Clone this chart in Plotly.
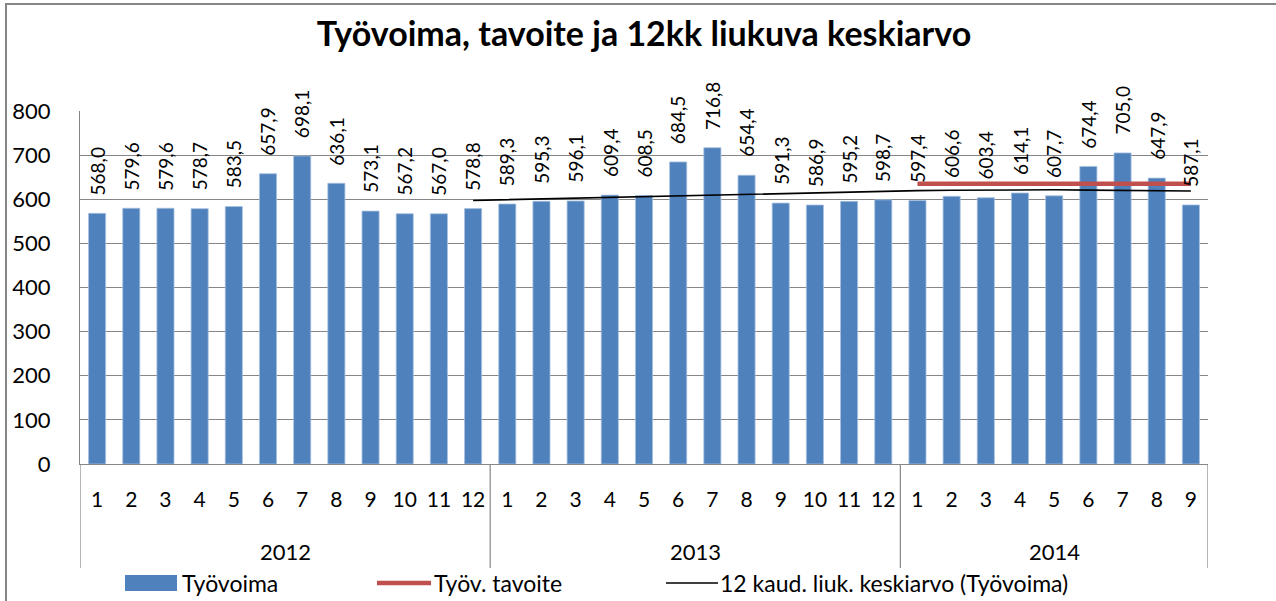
import plotly.graph_objects as go

# ---- data ----
years = ["2012", "2013", "2014"]
months_per_year = [12, 12, 9]
month_labels = [str(m) for m in range(1, 13)] + [str(m) for m in range(1, 13)] + [str(m) for m in range(1, 10)]
tyovoima = [568.0, 579.6, 579.6, 578.7, 583.5, 657.9, 698.1, 636.1, 573.1, 567.2, 567.0, 578.8,
            589.3, 595.3, 596.1, 609.4, 608.5, 684.5, 716.8, 654.4, 591.3, 586.9, 595.2, 598.7,
            597.4, 606.6, 603.4, 614.1, 607.7, 674.4, 705.0, 647.9, 587.1]
tavoite = [None] * 24 + [635.0] * 9
liukuva = [None] * 11 + [597.3,
           599.1, 600.4, 601.8, 604.3, 606.4, 608.6, 610.2, 611.7, 613.2, 614.9, 617.2, 618.9,
           619.5, 620.5, 621.1, 621.5, 621.4, 620.6, 619.6, 619.1, 618.7]
series_names = ["Työvoima", "Työv. tavoite", "12 kaud. liuk. keskiarvo (Työvoima)"]
title_text = "Työvoima, tavoite ja 12kk liukuva keskiarvo"

x = list(range(len(tyovoima)))

BLUE = "#4F81BD"
RED = "#C0504D"
GRID = "#868686"
FONT = "Lato"

# layout geometry (pixels)
W, H = 1276, 601
L, R, T, B = 80, 68, 111, 137
PW, PH = W - L - R, H - T - B

def px(X):
    return (X - L) / PW

def py(Y):
    return (H - B - Y) / PH

fig = go.Figure()
fig.add_trace(go.Bar(x=x, y=tyovoima, name=series_names[0], marker_color=BLUE,
                     marker_line=dict(color="#A7C0DE", width=0.8), width=0.5, showlegend=False))
fig.add_trace(go.Scatter(x=x, y=tavoite, name=series_names[1], mode="lines",
                         line=dict(color=RED, width=4.5), showlegend=False))
fig.add_trace(go.Scatter(x=x, y=liukuva, name=series_names[2], mode="lines",
                         line=dict(color="black", width=1.6), showlegend=False))

annotations = []
for xi, v in zip(x, tyovoima):
    annotations.append(dict(x=xi, y=v, xref="x", yref="y", text=f"{v:.1f}".replace(".", ","),
                            textangle=-90, showarrow=False, yanchor="bottom", xanchor="center",
                            yshift=16, font=dict(family=FONT, size=19, color="black")))

shapes = []
# year dividers & labels
start = 0
bounds = [-0.5]
for yr, n in zip(years, months_per_year):
    center = start + (n - 1) / 2
    annotations.append(dict(x=center, y=py(551), xref="x", yref="paper", text=yr, showarrow=False,
                            yanchor="middle", xanchor="center",
                            font=dict(family=FONT, size=22, color="black")))
    start += n
    bounds.append(start - 0.5)
for b in bounds:
    shapes.append(dict(type="line", xref="x", yref="paper", x0=b, x1=b, y0=0, y1=py(568),
                       line=dict(color=GRID, width=1.2)))

# outer frame
shapes.append(dict(type="rect", xref="paper", yref="paper", x0=px(6), x1=px(1290), y0=py(4), y1=py(620),
                   line=dict(color=GRID, width=2), layer="below"))

# manual legend
ly = 583
shapes.append(dict(type="rect", xref="paper", yref="paper", x0=px(125), x1=px(177), y0=py(591), y1=py(575),
                   fillcolor=BLUE, line=dict(width=0)))
annotations.append(dict(x=px(180), y=py(ly), xref="paper", yref="paper", text=series_names[0], showarrow=False,
                        xanchor="left", yanchor="middle", font=dict(family=FONT, size=23, color="black")))
shapes.append(dict(type="line", xref="paper", yref="paper", x0=px(377), x1=px(431), y0=py(ly), y1=py(ly),
                   line=dict(color=RED, width=4.5)))
annotations.append(dict(x=px(432), y=py(ly), xref="paper", yref="paper", text=series_names[1], showarrow=False,
                        xanchor="left", yanchor="middle", font=dict(family=FONT, size=23, color="black")))
shapes.append(dict(type="line", xref="paper", yref="paper", x0=px(666), x1=px(718), y0=py(ly), y1=py(ly),
                   line=dict(color="black", width=1.6)))
annotations.append(dict(x=px(718), y=py(ly), xref="paper", yref="paper", text=series_names[2], showarrow=False,
                        xanchor="left", yanchor="middle", font=dict(family=FONT, size=23, color="black")))

fig.update_layout(
    width=W, height=H,
    margin=dict(l=L, r=R, t=T, b=B, pad=0),
    paper_bgcolor="white", plot_bgcolor="white",
    title=dict(text=f"<b>{title_text}</b>", x=0.5, xref="paper", xanchor="center",
               y=1 - 34 / H, yref="container", yanchor="middle",
               font=dict(family=FONT, size=34, color="black")),
    showlegend=False,
    bargap=0.5,
    annotations=annotations,
    shapes=shapes,
    font=dict(family=FONT, size=21, color="black"),
)
fig.update_xaxes(range=[-0.5, len(x) - 0.5], tickmode="array", tickvals=x, ticktext=month_labels,
                 showgrid=False, showline=True, linecolor=GRID, linewidth=1.2, ticks="",
                 ticklabelstandoff=17, tickfont=dict(family=FONT, size=21, color="black"), zeroline=False)
fig.update_yaxes(range=[0, 800], dtick=100, showgrid=True, gridcolor=GRID, gridwidth=1.2,
                 showline=True, linecolor=GRID, linewidth=1.2, ticks="", zeroline=False,
                 ticklabelstandoff=24, tickfont=dict(family=FONT, size=22, color="black"))

fig.write_html("out.html", config={"displayModeBar": False},
               post_script="document.body.style.margin='0';document.body.style.overflow='hidden';")
